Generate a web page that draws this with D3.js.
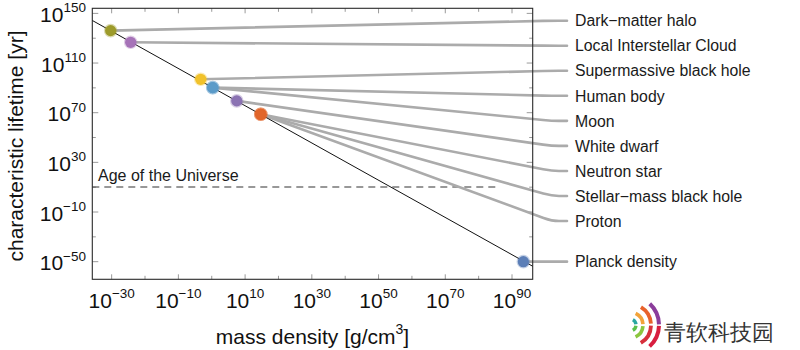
<!DOCTYPE html>
<html><head><meta charset="utf-8">
<script src="https://cdn.jsdelivr.net/npm/d3@7"></script>
<style>
html,body{margin:0;padding:0;background:#fff;}
svg text{font-family:"Liberation Sans",Arial,Helvetica,sans-serif;}
</style></head>
<body><svg id="c" width="800" height="350"></svg>
<script>
// ---------- data ----------
const names = ["Dark\u2212matter halo","Local Interstellar Cloud","Supermassive black hole","Human body","Moon","White dwarf","Neutron star","Stellar\u2212mass black hole","Proton","Planck density"];
const logDensity  = [-30.3, -24.3, -3.3, 0.3, 0.3, 7.5, 14.7, 14.7, 14.7, 93.4];
const logLifetime = [136.1, 126.7, 96.9, 90.2, 90.2, 79.5, 68.7, 68.7, 68.7, -50];
const pointColors = ["#9d9b2b","#a673b8","#f1c22c","#5b9bc9","#5b9bc9","#8b73b3","#e1662b","#e1662b","#e1662b","#5c7fb7"];
const trendX = [-35.8, 96.2];
const trendY = [144.3, -53.7];
const ageOfUniverse = 10.14;
const ageLineX = [-35.8, 86.4];
const xMajorTicks = [-30,-10,10,30,50,70,90];
const xMinorTicks = [-30,-20,-10,0,10,20,30,40,50,60,70,80,90];
const yMajorTicks = [-50,-10,30,70,110,150];
const yMinorTicks = [-50,-30,-10,10,30,50,70,90,110,130,150];

// ---------- layout ----------
const svg = d3.select("#c");
const L = 92.3, R = 532.7, T = 8.3, B = 279.3;
const x = d3.scaleLinear().domain([-35.8, 96.2]).range([L, R]);
const y = d3.scaleLinear().domain([-64.2, 154.1]).range([B, T]);
const fmt = v => v < 0 ? "\u2212" + Math.abs(v) : String(v);

// frame ticks (inward)
const tg = svg.append("g").attr("stroke","#9a9a9a").attr("stroke-width",1);
xMinorTicks.forEach(v => {
  const len = xMajorTicks.includes(v) ? 5 : 3.5;
  tg.append("line").attr("x1",x(v)).attr("x2",x(v)).attr("y1",B).attr("y2",B-len);
  tg.append("line").attr("x1",x(v)).attr("x2",x(v)).attr("y1",T).attr("y2",T+len);
});
yMinorTicks.forEach(v => {
  const len = yMajorTicks.includes(v) ? 6 : 3.5;
  tg.append("line").attr("y1",y(v)).attr("y2",y(v)).attr("x1",L).attr("x2",L+len);
  tg.append("line").attr("y1",y(v)).attr("y2",y(v)).attr("x1",R).attr("x2",R-len);
});

// age of universe line
svg.append("line")
  .attr("x1",x(ageLineX[0])).attr("x2",x(ageLineX[1]))
  .attr("y1",y(ageOfUniverse)).attr("y2",y(ageOfUniverse))
  .attr("stroke","#333").attr("stroke-width",1.2).attr("stroke-dasharray","7,5");
svg.append("text").attr("x",98).attr("y",y(ageOfUniverse)-6)
  .attr("font-size",16).attr("fill","#1a1a1a").text("Age of the Universe");

// leader lines
const labelX = 575;
const labelY = i => i < 9 ? 20.7 + i*25.04 : y(logLifetime[i]);
const lg = svg.append("g").attr("fill","none").attr("stroke","#ababab").attr("stroke-width",2.6).attr("stroke-linecap","round");
names.forEach((n,i) => {
  const px = x(logDensity[i]), py = y(logLifetime[i]);
  const ly = labelY(i);
  const bx = 552, ex = 567;
  const dx = bx - px, dy = ly - py, d = Math.hypot(dx,dy);
  const ax = px + dx*(1 - 9/d), ay = py + dy*(1 - 9/d);
  lg.append("path").attr("d",`M${px},${py}L${ax},${ay}Q${bx},${ly} ${bx+7},${ly}L${ex},${ly}`);
});

// frame
svg.append("rect").attr("x",L).attr("y",T).attr("width",R-L).attr("height",B-T)
  .attr("fill","none").attr("stroke","#2a2a2a").attr("stroke-width",1.1);

// trend line
svg.append("clipPath").attr("id","clip").append("rect").attr("x",L).attr("y",T).attr("width",R-L).attr("height",B-T);
svg.append("path").attr("clip-path","url(#clip)")
  .datum(trendX.map((v,i)=>[v,trendY[i]]))
  .attr("d", d3.line().x(d=>x(d[0])).y(d=>y(d[1])))
  .attr("stroke","#111").attr("stroke-width",1).attr("fill","none");

// points
const order = [0,1,2,4,3,5,8,7,6,9];
order.forEach(i => {
  svg.append("circle").attr("cx",x(logDensity[i])).attr("cy",y(logLifetime[i])).attr("r",5.6)
    .attr("fill",pointColors[i]).attr("stroke",pointColors[i]).attr("stroke-opacity",0.35).attr("stroke-width",2.4);
});

// labels
names.forEach((n,i) => {
  svg.append("text").attr("x",labelX).attr("y",labelY(i)+5.7)
    .attr("font-size",15.8).attr("fill","#1a1a1a").text(n);
});

// tick labels
xMajorTicks.forEach(v => {
  const t = svg.append("text").attr("x",x(v)).attr("y",307.5).attr("text-anchor","middle")
    .attr("font-size",21).attr("fill","#111");
  t.append("tspan").text("10");
  t.append("tspan").attr("dy",-9.5).attr("font-size",13.5).text(fmt(v));
});
yMajorTicks.forEach(v => {
  const t = svg.append("text").attr("x",86).attr("y",y(v)+8.5).attr("text-anchor","end")
    .attr("font-size",21).attr("fill","#111");
  t.append("tspan").text("10");
  t.append("tspan").attr("dy",-9.5).attr("font-size",13.5).text(fmt(v));
});

// axis titles
const xt = svg.append("text").attr("x",(L+R)/2).attr("y",344).attr("text-anchor","middle")
  .attr("font-size",21).attr("fill","#111");
xt.append("tspan").text("mass density [g/cm");
xt.append("tspan").attr("dy",-10).attr("font-size",14).text("3");
xt.append("tspan").attr("dy",10).text("]");
svg.append("text").attr("transform","translate(23,146) rotate(-90)").attr("text-anchor","middle")
  .attr("font-size",21).attr("fill","#111").text("characteristic lifetime [yr]");

// watermark
const wm = svg.append("g");
const arc = d3.arc();
const cx = 630, cy = 325;
const arcs = [
  {r:6, w:3.4, a0:0.5, a1:1.45, c:"#2aa6a0"},
  {r:6, w:3.4, a0:1.7, a1:2.65, c:"#5bbf4a"},
  {r:13, w:3.6, a0:0.45, a1:1.5, c:"#f2a33a"},
  {r:13, w:3.6, a0:1.65, a1:2.7, c:"#8cc63f"},
  {r:21, w:3.8, a0:0.55, a1:1.5, c:"#e8622b"},
  {r:21, w:3.8, a0:1.6, a1:2.6, c:"#d62f3b"},
  {r:29, w:4, a0:0.75, a1:1.55, c:"#8b3d9b"},
  {r:29, w:4, a0:1.6, a1:2.4, c:"#d81e3f"}
];
arcs.forEach(a => {
  wm.append("path").attr("transform",`translate(${cx},${cy})`)
    .attr("d", arc({innerRadius:a.r-a.w/2, outerRadius:a.r+a.w/2, startAngle:a.a0, endAngle:a.a1, cornerRadius:1.6}))
    .attr("fill",a.c);
});
wm.append("text").attr("x",664).attr("y",340).attr("font-size",22)
  .attr("font-family","'Noto Sans CJK SC',sans-serif").attr("fill","#333").text("青软科技园");
</script></body></html>
